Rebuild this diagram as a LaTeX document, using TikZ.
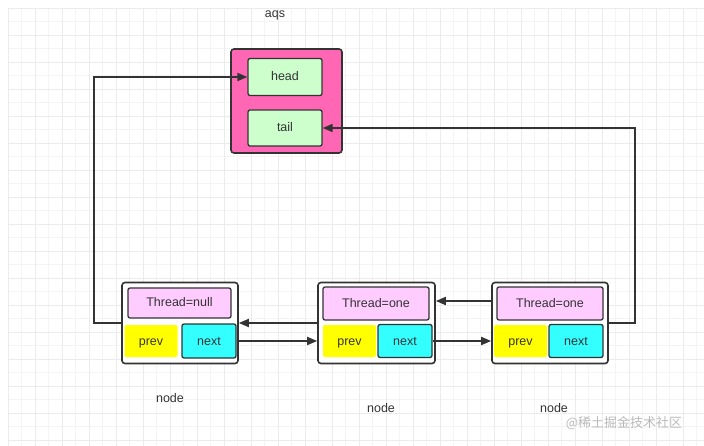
\documentclass[tikz,border=0pt]{standalone}
\usepackage{fontspec}
\setmainfont{Liberation Sans}
\newfontfamily\cjk{Noto Sans CJK SC}
\usetikzlibrary{arrows.meta}
\definecolor{linegray}{HTML}{333333}
\definecolor{aqspink}{HTML}{FF66B3}
\definecolor{fieldgreen}{HTML}{CCFFCC}
\definecolor{threadpink}{HTML}{FFCCFF}
\definecolor{prevyellow}{HTML}{FFFF00}
\definecolor{nextcyan}{HTML}{33FFFF}
\begin{document}
\begin{tikzpicture}[x=1pt,y=-1pt,
font=\fontsize{12.5}{14}\selectfont, text=linegray,
outerbox/.style={rectangle, rounded corners=3pt, draw=linegray, line width=1.6pt, inner sep=0pt},
fieldbox/.style={rectangle, rounded corners=2pt, draw=linegray, line width=1.3pt, inner sep=0pt, text height=10pt, text depth=2pt},
prevbox/.style={rectangle, rounded corners=2pt, fill=prevyellow, inner sep=0pt, text height=10pt, text depth=2pt, minimum width=53pt, minimum height=32pt},
link/.style={draw=linegray, line width=1.7pt, -{Triangle[length=10pt,width=8pt]}},
]
\useasboundingbox (0,0) rectangle (704,446);
%Grid
\foreach \gx in {0,...,51} \draw[gray!9, line width=0.6pt] (8+13.5*\gx,8) -- (8+13.5*\gx,446);
\foreach \gy in {0,...,32} \draw[gray!9, line width=0.6pt] (8,8+13.5*\gy) -- (704,8+13.5*\gy);
\foreach \gx in {0,...,25} \draw[gray!16, line width=0.6pt] (8+27*\gx,8) -- (8+27*\gx,446);
\foreach \gy in {0,...,16} \draw[gray!16, line width=0.6pt] (8,8+27*\gy) -- (704,8+27*\gy);

%Nodes
\node (aqslabel) at (275,15) {aqs};
\node[outerbox, fill=aqspink, minimum width=111pt, minimum height=104pt] (aqs) at (286.5,101) {};
\node[fieldbox, fill=fieldgreen, minimum width=74pt, minimum height=37pt] (head) at (285,77) {head};
\node[fieldbox, fill=fieldgreen, minimum width=74pt, minimum height=36pt] (tail) at (285,128) {tail};

\node[outerbox, fill=white, minimum width=116pt, minimum height=81pt] (node1) at (180,323) {};
\node[fieldbox, fill=threadpink, minimum width=103pt, minimum height=30pt] (thread1) at (179.5,303) {Thread=null};
\node[prevbox] (prev1) at (151,341) {prev};
\node[fieldbox, fill=nextcyan, minimum width=54pt, minimum height=34pt] (next1) at (209,341) {next};

\node[outerbox, fill=white, minimum width=117pt, minimum height=81pt] (node2) at (376.5,323) {};
\node[fieldbox, fill=threadpink, minimum width=106pt, minimum height=33pt] (thread2) at (376,303.5) {Thread=one};
\node[prevbox] (prev2) at (349.5,341) {prev};
\node[fieldbox, fill=nextcyan, minimum width=54pt, minimum height=33pt] (next2) at (405,341) {next};

\node[outerbox, fill=white, minimum width=116pt, minimum height=81pt] (node3) at (550,323) {};
\node[fieldbox, fill=threadpink, minimum width=106pt, minimum height=33pt] (thread3) at (550,303.5) {Thread=one};
\node[prevbox] (prev3) at (520.5,341) {prev};
\node[fieldbox, fill=nextcyan, minimum width=54pt, minimum height=33pt] (next3) at (576,341) {next};

\node (label1) at (170,398) {node};
\node (label2) at (381,408) {node};
\node (label3) at (554,408) {node};
\node[text=gray!55, font=\cjk\fontsize{13}{15}\selectfont] (mark) at (624,423) {@稀土掘金技术社区};

%Lines
\draw[link] (next1.east) -- (next1.east -| node2.west);
\draw[link] (node2.west) -- (node1.east);
\draw[link] (next2.east) -- (next2.east -| node3.west);
\draw[link] ([yshift=2.5pt]thread3.west -| node3.west) -- ([yshift=2.5pt]thread3.west -| node2.east);
\draw[link] (node1.west) -- ++(-27,0) |- (head.west);
\draw[link] (node3.east) -- ++(26,0) |- (tail.east);
\end{tikzpicture}
\end{document}
